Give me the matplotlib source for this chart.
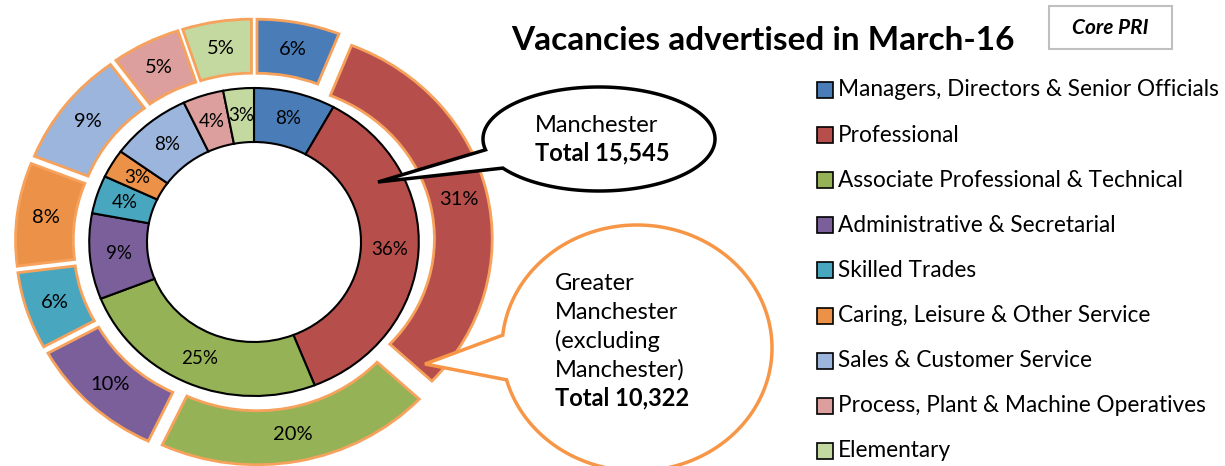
import numpy as np
import matplotlib.pyplot as plt
from matplotlib.patches import Polygon, Rectangle

plt.rcParams['font.family'] = ['Lato', 'DejaVu Sans']

categories = ['Managers, Directors & Senior Officials', 'Professional',
              'Associate Professional & Technical', 'Administrative & Secretarial',
              'Skilled Trades', 'Caring, Leisure & Other Service',
              'Sales & Customer Service', 'Process, Plant & Machine Operatives',
              'Elementary']
manchester = [8, 36, 25, 9, 4, 3, 8, 4, 3]
greater_manchester = [6, 31, 20, 10, 6, 8, 9, 5, 5]
manchester_total = '15,545'
greater_total = '10,322'

colors = ['#4a7db8', '#b64f4b', '#95b356', '#7a5f9b', '#48a6bf',
          '#ec9148', '#9bb5dc', '#dc9f9d', '#c4d9a0']

W, H = 1225, 466
fig = plt.figure(figsize=(W / 100, H / 100), dpi=100)

# pie axes, outer ring radius 1 = 208 px, slightly stretched sideways like the original
cx, cy = 254, 242
unit = 208
sx = 1.07
lim = 1.25
ax = fig.add_axes([(cx - lim * unit * sx) / W, (H - cy - lim * unit) / H,
                   2 * lim * unit * sx / W, 2 * lim * unit / H])

ring = 54 / unit
ax.pie(greater_manchester, radius=1.0, colors=colors, startangle=90, counterclock=False,
       explode=[15 / unit] * len(greater_manchester),
       wedgeprops=dict(width=ring, edgecolor='#f7a25c', linewidth=2),
       autopct=lambda p: f'{p:.0f}%', pctdistance=(1 - ring / 2),
       textprops=dict(fontsize=14.5))
r_in = 154 / unit
ax.pie(manchester, radius=r_in, colors=colors, startangle=90, counterclock=False,
       wedgeprops=dict(width=ring, edgecolor='black', linewidth=1.5),
       autopct=lambda p: f'{p:.0f}%', pctdistance=(1 - ring / 2 / r_in),
       textprops=dict(fontsize=13.5))
ax.set_aspect('auto')
ax.set_xlim(-lim, lim)
ax.set_ylim(-lim, lim)

# overlay in pixel coordinates for title, callouts and legend
ov = fig.add_axes([0, 0, 1, 1])
ov.set_zorder(2)
ov.set_xlim(0, W)
ov.set_ylim(H, 0)
ov.axis('off')


def callout(ecx, ecy, a, b, tip, t1, t2, ec, lw):
    th = np.radians(np.linspace(t2, t1 + 360, 300))
    pts = np.column_stack([ecx + a * np.cos(th), ecy + b * np.sin(th)])
    pts = np.vstack([pts, tip])
    ov.add_patch(Polygon(pts, closed=True, fc='white', ec=ec, lw=lw, joinstyle='miter'))


callout(599, 139, 116, 52, (378, 182), 146, 168, 'black', 2.5)
ov.text(535, 125, 'Manchester', fontsize=17, va='center')
ov.text(535, 153, 'Total ' + manchester_total, fontsize=17, fontweight='bold', va='center')

callout(637, 348, 135, 123, (425, 364), 165, 186, '#f79646', 2.5)
gm_lines = ['Greater', 'Manchester', '(excluding', 'Manchester)']
for i, s in enumerate(gm_lines):
    ov.text(555, 284 + i * 28.5, s, fontsize=17, va='center')
ov.text(555, 398, 'Total ' + greater_total, fontsize=17, fontweight='bold', va='center')

ov.text(763, 40, 'Vacancies advertised in March-16', fontsize=24, fontweight='bold',
        ha='center', va='center')

ov.add_patch(Rectangle((1049, 6), 123, 43, fc='white', ec='#bfbfbf', lw=1.5))
ov.text(1110, 28, 'Core PRI', fontsize=15, fontweight='bold', fontstyle='italic',
        ha='center', va='center')

# legend
for i, (name, c) in enumerate(zip(categories, colors)):
    y = 90 + i * 45.1
    ov.add_patch(Rectangle((817, y - 8), 16, 16, fc=c, ec='black', lw=1.2))
    ov.text(838, y, name, fontsize=16.3, va='center')

fig.savefig('out.png', dpi=100)
